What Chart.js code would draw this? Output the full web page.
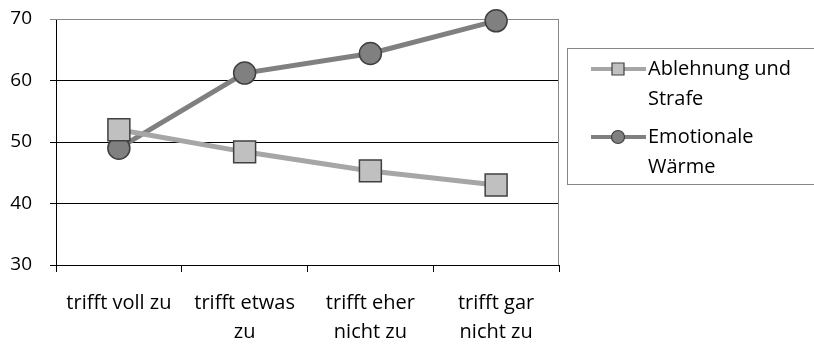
<!DOCTYPE html>
<html>
<head>
<meta charset="utf-8">
<script src="https://cdn.jsdelivr.net/npm/chart.js@4"></script>
<style>
  html, body { margin: 0; padding: 0; background: #fff; }
  #wrap { width: 814px; height: 345px; position: relative; }
</style>
</head>
<body>
<div id="wrap"><canvas id="chart"></canvas></div>
<script>
// Chart data
const categories = [["trifft voll zu"], ["trifft etwas", "zu"], ["trifft eher", "nicht zu"], ["trifft gar", "nicht zu"]];
const ablehnungValues = [52, 48.4, 45.3, 43];
const waermeValues = [49, 61.2, 64.4, 69.7];
const yTicks = [30, 40, 50, 60, 70];
const seriesNames = [["Ablehnung und", "Strafe"], ["Emotionale", "Wärme"]];

const FONT = "'Open Sans', sans-serif";

// Plot border (gray frame around the plot area)
const frame = {
  id: "frame",
  beforeDatasetsDraw(chart) {
    const { ctx, chartArea: a } = chart;
    ctx.save();
    ctx.strokeStyle = "#868686";
    ctx.lineWidth = 1;
    ctx.beginPath();
    ctx.moveTo(a.left, a.top + 0.5);
    ctx.lineTo(a.right - 0.5, a.top + 0.5);
    ctx.lineTo(a.right - 0.5, a.bottom);
    ctx.stroke();
    ctx.restore();
  }
};

// Legend box drawn by hand so the labels can wrap
const boxLegend = {
  id: "boxLegend",
  afterDraw(chart) {
    const ctx = chart.ctx;
    ctx.save();
    ctx.strokeStyle = "#868686";
    ctx.lineWidth = 1;
    ctx.strokeRect(567.5, 48.5, 260, 136);
    ctx.font = "20px " + FONT;
    ctx.textBaseline = "middle";
    ctx.fillStyle = "#000";
    const rows = [69, 137];
    chart.data.datasets.forEach((ds, i) => {
      const y = rows[i];
      ctx.strokeStyle = ds.borderColor;
      ctx.lineWidth = 4;
      ctx.beginPath();
      ctx.moveTo(591, y);
      ctx.lineTo(646, y);
      ctx.stroke();
      ctx.fillStyle = ds.pointBackgroundColor;
      ctx.strokeStyle = ds.pointBorderColor;
      ctx.lineWidth = 1.2;
      ctx.beginPath();
      if (ds.pointStyle === "rect") ctx.rect(612, y - 6, 12, 12);
      else ctx.arc(618, y, 6.5, 0, Math.PI * 2);
      ctx.fill();
      ctx.stroke();
      ctx.fillStyle = "#000";
      seriesNames[i].forEach((t, k) => ctx.fillText(t, 648, y + k * 30));
    });
    ctx.restore();
  }
};

new Chart(document.getElementById("chart"), {
  type: "line",
  data: {
    labels: categories,
    datasets: [
      {
        label: seriesNames[0].join(" "),
        data: ablehnungValues,
        borderColor: "#a6a6a6",
        borderWidth: 5,
        pointStyle: "rect",
        pointRadius: 15.5,
        pointBackgroundColor: "#c0c0c0",
        pointBorderColor: "#404040",
        pointBorderWidth: 1.5,
        clip: false
      },
      {
        label: seriesNames[1].join(" "),
        data: waermeValues,
        borderColor: "#808080",
        borderWidth: 5,
        pointStyle: "circle",
        pointRadius: 11,
        pointBackgroundColor: "#808080",
        pointBorderColor: "#404040",
        pointBorderWidth: 1.5,
        clip: false
      }
    ]
  },
  options: {
    responsive: true,
    maintainAspectRatio: false,
    animation: false,
    layout: { padding: { top: 19, right: 255, left: 0, bottom: 0 } },
    plugins: { legend: { display: false }, tooltip: { enabled: false } },
    scales: {
      x: {
        offset: true,
        afterFit(scale) { scale.height = 80; },
        grid: {
          offset: true,
          drawOnChartArea: false,
          tickLength: 7,
          color: "#000"
        },
        border: { color: "#000", width: 1 },
        ticks: {
          color: "#000",
          padding: 17,
          maxRotation: 0,
          font: { family: FONT, size: 20, lineHeight: 1.45 }
        }
      },
      y: {
        min: 30,
        max: 70,
        afterBuildTicks(scale) {
          scale.ticks = yTicks.map(v => ({ value: v }));
        },
        afterFit(scale) {
          scale.width = 56;
          scale.paddingTop = 0;
          scale.paddingBottom = 0;
        },
        grid: {
          tickLength: 6,
          color: (c) => (c.tick && c.tick.value === 70 ? "#868686" : "#000")
        },
        border: { color: "#000", width: 1 },
        ticks: {
          color: "#000",
          padding: 18,
          font: { family: FONT, size: 19 }
        }
      }
    }
  },
  plugins: [frame, boxLegend]
});
</script>
</body>
</html>
